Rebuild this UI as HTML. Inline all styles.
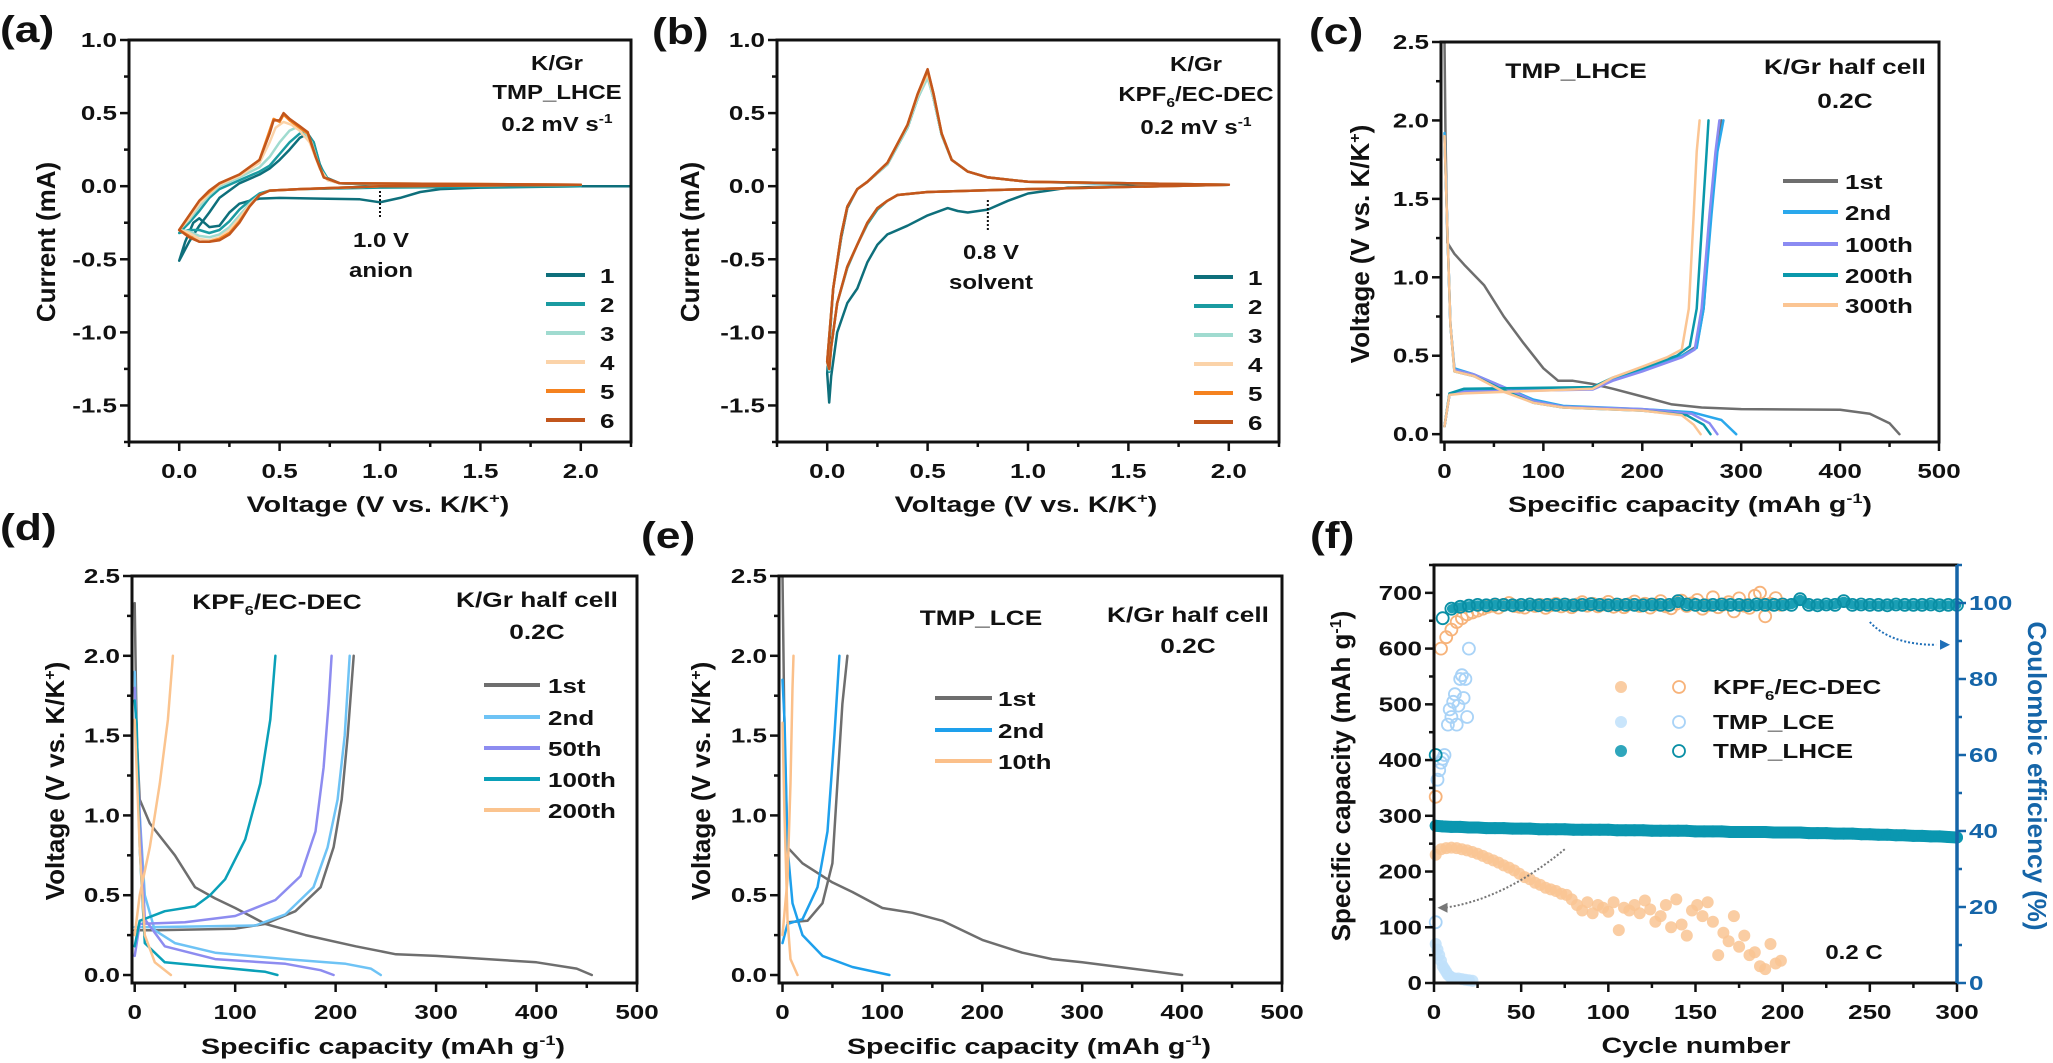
<!DOCTYPE html>
<html><head><meta charset="utf-8"><title>K/Gr electrochemistry figure</title>
<style>
html,body{margin:0;padding:0;background:#fff;}
svg{display:block;}
text{font-family:"Liberation Sans",Arial,sans-serif;font-weight:bold;fill:#111;}
</style></head>
<body>
<svg id="fig" width="2053" height="1063" viewBox="0 0 2053 1063" xmlns="http://www.w3.org/2000/svg">
<rect x="0" y="0" width="2053" height="1063" fill="#fff"/>
<text transform="translate(0,42) scale(1.2,1)" font-size="37">(a)</text>
<text transform="translate(652,44) scale(1.2,1)" font-size="37">(b)</text>
<text transform="translate(1309,44) scale(1.2,1)" font-size="37">(c)</text>
<text transform="translate(0,540) scale(1.2,1)" font-size="37">(d)</text>
<text transform="translate(641,548) scale(1.2,1)" font-size="37">(e)</text>
<text transform="translate(1310,548) scale(1.2,1)" font-size="37">(f)</text>
<text transform="translate(55,242) rotate(-90)" text-anchor="middle" font-size="26">Current (mA)</text>
<text transform="translate(378,512) scale(1.3,1)" text-anchor="middle" font-size="22">Voltage (V vs. K/K<tspan font-size="14" dy="-9">+</tspan><tspan dy="9">)</tspan></text>
<text transform="translate(699,242) rotate(-90)" text-anchor="middle" font-size="26">Current (mA)</text>
<text transform="translate(1026,512) scale(1.3,1)" text-anchor="middle" font-size="22">Voltage (V vs. K/K<tspan font-size="14" dy="-9">+</tspan><tspan dy="9">)</tspan></text>
<text transform="translate(1369,244) rotate(-90)" text-anchor="middle" font-size="26">Voltage (V vs. K/K<tspan font-size="16" dy="-9">+</tspan><tspan dy="9">)</tspan></text>
<text transform="translate(1690,512) scale(1.3,1)" text-anchor="middle" font-size="22">Specific capacity (mAh g<tspan font-size="14" dy="-9">-1</tspan><tspan dy="9">)</tspan></text>
<text transform="translate(64,781) rotate(-90)" text-anchor="middle" font-size="26">Voltage (V vs. K/K<tspan font-size="16" dy="-9">+</tspan><tspan dy="9">)</tspan></text>
<text transform="translate(383,1054) scale(1.3,1)" text-anchor="middle" font-size="22">Specific capacity (mAh g<tspan font-size="14" dy="-9">-1</tspan><tspan dy="9">)</tspan></text>
<text transform="translate(710,781) rotate(-90)" text-anchor="middle" font-size="26">Voltage (V vs. K/K<tspan font-size="16" dy="-9">+</tspan><tspan dy="9">)</tspan></text>
<text transform="translate(1029,1054) scale(1.3,1)" text-anchor="middle" font-size="22">Specific capacity (mAh g<tspan font-size="14" dy="-9">-1</tspan><tspan dy="9">)</tspan></text>
<text transform="translate(1350,776) rotate(-90)" text-anchor="middle" font-size="26">Specific capacity (mAh g<tspan font-size="16" dy="-9">-1</tspan><tspan dy="9">)</tspan></text>
<text transform="translate(2028,776) rotate(90)" text-anchor="middle" font-size="26" style="fill:#1565a8">Coulombic efficiency (%)</text>
<text transform="translate(1696,1053) scale(1.3,1)" text-anchor="middle" font-size="22">Cycle number</text>
<g font-size="20" text-anchor="middle">
<text transform="translate(557,70) scale(1.2,1)">K/Gr</text>
<text transform="translate(557,99) scale(1.2,1)">TMP_LHCE</text>
<text transform="translate(557,131) scale(1.2,1)">0.2 mV s<tspan font-size="13" dy="-8">-1</tspan></text>
<text transform="translate(381,247) scale(1.2,1)">1.0 V</text>
<text transform="translate(381,277) scale(1.2,1)">anion</text>
</g>
<g font-size="20" text-anchor="middle">
<text transform="translate(1196,71) scale(1.2,1)">K/Gr</text>
<text transform="translate(1196,101) scale(1.2,1)">KPF<tspan font-size="13" dy="6">6</tspan><tspan dy="-6">/EC-DEC</tspan></text>
<text transform="translate(1196,134) scale(1.2,1)">0.2 mV s<tspan font-size="13" dy="-8">-1</tspan></text>
<text transform="translate(991,259) scale(1.2,1)">0.8 V</text>
<text transform="translate(991,289) scale(1.2,1)">solvent</text>
</g>
<g font-size="21" text-anchor="middle">
<text transform="translate(1576,78) scale(1.25,1)">TMP_LHCE</text>
<text transform="translate(1845,74) scale(1.25,1)">K/Gr half cell</text>
<text transform="translate(1845,108) scale(1.25,1)">0.2C</text>
</g>
<g font-size="21" text-anchor="middle">
<text transform="translate(277,609) scale(1.25,1)">KPF<tspan font-size="13" dy="6">6</tspan><tspan dy="-6">/EC-DEC</tspan></text>
<text transform="translate(537,607) scale(1.25,1)">K/Gr half cell</text>
<text transform="translate(537,639) scale(1.25,1)">0.2C</text>
</g>
<g font-size="21" text-anchor="middle">
<text transform="translate(981,625) scale(1.25,1)">TMP_LCE</text>
<text transform="translate(1188,622) scale(1.25,1)">K/Gr half cell</text>
<text transform="translate(1188,653) scale(1.25,1)">0.2C</text>
</g>
<text transform="translate(1854,959) scale(1.2,1)" text-anchor="middle" font-size="20">0.2 C</text>
<g id="plots"></g>
</svg>
<script>
const cvLabels = ['1','2','3','4','5','6'];
const cvColors = ['#0e6f7b','#1a9ba1','#a0dbd0','#fbd3a9','#f5821f','#c2561c'];
const aCycle1 = [[2.25,0],[2.0,0],[1.5,-0.01],[1.3,-0.02],[1.2,-0.04],[1.1,-0.08],[1.0,-0.11],[0.9,-0.09],[0.7,-0.085],[0.5,-0.08],[0.4,-0.085],[0.35,-0.1],[0.3,-0.12],[0.25,-0.18],[0.2,-0.27],[0.15,-0.28],[0.1,-0.22],[0.07,-0.25],[0.03,-0.38],[0.0,-0.51],[0.05,-0.38],[0.1,-0.27],[0.15,-0.18],[0.2,-0.08],[0.3,0.02],[0.4,0.08],[0.45,0.12],[0.5,0.18],[0.55,0.25],[0.6,0.33],[0.64,0.36],[0.67,0.3],[0.7,0.15],[0.73,0.06],[0.8,0.02],[1.0,0.01],[1.5,0.0],[2.0,0.0]];
const aCycle2 = [[2.0,0.0],[1.5,-0.005],[1.0,-0.01],[0.6,-0.02],[0.45,-0.03],[0.4,-0.05],[0.35,-0.1],[0.3,-0.16],[0.25,-0.24],[0.2,-0.3],[0.15,-0.32],[0.1,-0.3],[0.05,-0.3],[0.0,-0.32],[0.05,-0.25],[0.1,-0.17],[0.15,-0.08],[0.2,-0.02],[0.3,0.04],[0.4,0.1],[0.45,0.14],[0.5,0.22],[0.55,0.3],[0.6,0.36],[0.63,0.37],[0.67,0.3],[0.7,0.14],[0.74,0.05],[0.8,0.02],[1.0,0.01],[2.0,0.01]];
const aCycle3 = [[2.0,0.01],[1.0,0.0],[0.6,-0.02],[0.45,-0.03],[0.4,-0.06],[0.35,-0.12],[0.3,-0.2],[0.25,-0.28],[0.2,-0.33],[0.15,-0.35],[0.1,-0.34],[0.05,-0.31],[0.0,-0.3],[0.05,-0.23],[0.1,-0.14],[0.15,-0.06],[0.2,0.0],[0.3,0.06],[0.4,0.13],[0.45,0.2],[0.5,0.3],[0.55,0.38],[0.58,0.4],[0.62,0.38],[0.66,0.3],[0.7,0.12],[0.74,0.04],[0.8,0.02],[2.0,0.01]];
const aCycle4 = [[2.0,0.01],[1.0,0.0],[0.6,-0.02],[0.45,-0.03],[0.4,-0.06],[0.35,-0.13],[0.3,-0.22],[0.25,-0.3],[0.2,-0.35],[0.15,-0.37],[0.1,-0.36],[0.05,-0.32],[0.0,-0.3],[0.05,-0.22],[0.1,-0.12],[0.15,-0.05],[0.2,0.01],[0.3,0.07],[0.4,0.16],[0.45,0.3],[0.48,0.4],[0.52,0.44],[0.56,0.42],[0.6,0.38],[0.65,0.3],[0.7,0.12],[0.74,0.04],[0.8,0.02],[2.0,0.01]];
const aCycle5 = [[2.0,0.01],[1.0,0.0],[0.6,-0.02],[0.45,-0.03],[0.4,-0.06],[0.35,-0.14],[0.3,-0.24],[0.25,-0.32],[0.2,-0.36],[0.15,-0.38],[0.1,-0.38],[0.05,-0.34],[0.0,-0.3],[0.05,-0.2],[0.1,-0.1],[0.15,-0.04],[0.2,0.02],[0.3,0.08],[0.4,0.18],[0.45,0.38],[0.47,0.46],[0.5,0.44],[0.52,0.49],[0.55,0.45],[0.6,0.4],[0.64,0.36],[0.68,0.2],[0.72,0.06],[0.8,0.02],[2.0,0.01]];
const aCycle6 = [[2.0,0.01],[1.0,0.0],[0.6,-0.02],[0.45,-0.03],[0.4,-0.06],[0.35,-0.14],[0.3,-0.25],[0.25,-0.33],[0.2,-0.37],[0.15,-0.38],[0.1,-0.38],[0.05,-0.35],[0.0,-0.3],[0.05,-0.2],[0.1,-0.1],[0.15,-0.03],[0.2,0.02],[0.3,0.08],[0.4,0.18],[0.45,0.36],[0.47,0.45],[0.5,0.45],[0.52,0.5],[0.55,0.46],[0.6,0.41],[0.64,0.37],[0.68,0.2],[0.72,0.06],[0.8,0.02],[2.0,0.01]];
const bCycle1 = [[2.0,0.01],[1.5,0.0],[1.2,-0.01],[1.1,-0.03],[1.0,-0.05],[0.9,-0.1],[0.8,-0.16],[0.7,-0.18],[0.65,-0.17],[0.6,-0.15],[0.5,-0.2],[0.4,-0.27],[0.3,-0.33],[0.25,-0.4],[0.2,-0.52],[0.15,-0.7],[0.1,-0.8],[0.05,-1.0],[0.02,-1.3],[0.01,-1.48],[0.0,-1.28],[0.03,-0.7],[0.07,-0.35],[0.1,-0.15],[0.15,-0.02],[0.2,0.03],[0.3,0.15],[0.4,0.4],[0.45,0.6],[0.5,0.75],[0.53,0.6],[0.57,0.35],[0.62,0.18],[0.7,0.1],[0.8,0.06],[1.0,0.03],[1.5,0.015],[2.0,0.01]];
const bCycle2 = [[2.0,0.01],[1.0,-0.02],[0.5,-0.04],[0.35,-0.06],[0.3,-0.1],[0.25,-0.16],[0.2,-0.26],[0.15,-0.4],[0.1,-0.56],[0.05,-0.8],[0.02,-1.1],[0.01,-1.27],[0.0,-1.2],[0.03,-0.7],[0.07,-0.33],[0.1,-0.14],[0.15,-0.02],[0.2,0.03],[0.3,0.15],[0.4,0.4],[0.45,0.6],[0.5,0.76],[0.53,0.6],[0.57,0.35],[0.62,0.18],[0.7,0.1],[0.8,0.06],[1.0,0.03],[2.0,0.01]];
const bCycle3 = [[2.0,0.01],[1.0,-0.02],[0.5,-0.04],[0.35,-0.06],[0.3,-0.1],[0.25,-0.15],[0.2,-0.25],[0.15,-0.4],[0.1,-0.55],[0.05,-0.8],[0.02,-1.1],[0.01,-1.26],[0.0,-1.2],[0.03,-0.7],[0.07,-0.33],[0.1,-0.14],[0.15,-0.02],[0.2,0.03],[0.3,0.15],[0.4,0.4],[0.45,0.6],[0.5,0.74],[0.53,0.6],[0.57,0.35],[0.62,0.18],[0.7,0.1],[0.8,0.06],[1.0,0.03],[2.0,0.01]];
const bCycle4 = [[2.0,0.01],[1.0,-0.02],[0.5,-0.04],[0.35,-0.06],[0.3,-0.1],[0.25,-0.15],[0.2,-0.25],[0.15,-0.4],[0.1,-0.55],[0.05,-0.8],[0.02,-1.1],[0.01,-1.25],[0.0,-1.2],[0.03,-0.7],[0.07,-0.33],[0.1,-0.14],[0.15,-0.02],[0.2,0.03],[0.3,0.16],[0.4,0.42],[0.45,0.62],[0.5,0.77],[0.53,0.62],[0.57,0.36],[0.62,0.18],[0.7,0.1],[0.8,0.06],[1.0,0.03],[2.0,0.01]];
const bCycle5 = [[2.0,0.01],[1.0,-0.02],[0.5,-0.04],[0.35,-0.06],[0.3,-0.1],[0.25,-0.15],[0.2,-0.25],[0.15,-0.4],[0.1,-0.55],[0.05,-0.8],[0.02,-1.1],[0.01,-1.25],[0.0,-1.2],[0.03,-0.7],[0.07,-0.33],[0.1,-0.14],[0.15,-0.02],[0.2,0.03],[0.3,0.16],[0.4,0.42],[0.45,0.63],[0.5,0.79],[0.53,0.63],[0.57,0.36],[0.62,0.18],[0.7,0.1],[0.8,0.06],[1.0,0.03],[2.0,0.01]];
const bCycle6 = [[2.0,0.01],[1.0,-0.02],[0.5,-0.04],[0.35,-0.06],[0.3,-0.1],[0.25,-0.15],[0.2,-0.25],[0.15,-0.4],[0.1,-0.55],[0.05,-0.8],[0.02,-1.1],[0.01,-1.25],[0.0,-1.2],[0.03,-0.7],[0.07,-0.33],[0.1,-0.14],[0.15,-0.02],[0.2,0.03],[0.3,0.16],[0.4,0.42],[0.45,0.63],[0.5,0.8],[0.53,0.63],[0.57,0.36],[0.62,0.18],[0.7,0.1],[0.8,0.06],[1.0,0.03],[2.0,0.01]];
const cLabels = ['1st','2nd','100th','200th','300th'];
const cColors = ['#6e6e6e','#2aa8ec','#8b8bf2','#0a98ab','#fbc593'];
const cDis1 = [[0,2.5],[1,1.9],[3,1.22],[10,1.15],[20,1.08],[40,0.95],[60,0.75],[80,0.58],[100,0.42],[115,0.34],[130,0.34],[150,0.32],[170,0.29],[200,0.24],[230,0.19],[260,0.17],[300,0.16],[400,0.155],[430,0.13],[450,0.07],[460,0]];
const cCha1 = [[0,0.05],[5,0.25],[20,0.28],[100,0.285],[150,0.3],[170,0.35],[200,0.41],[240,0.5],[255,0.56],[262,0.8],[268,1.3],[273,1.7],[280,2.0]];
const cDis2 = [[0,1.92],[3,1.3],[6,0.7],[10,0.42],[30,0.38],[60,0.3],[90,0.22],[120,0.18],[200,0.16],[250,0.14],[280,0.09],[295,0]];
const cCha2 = [[0,0.05],[5,0.25],[20,0.28],[150,0.29],[170,0.35],[200,0.41],[240,0.5],[255,0.55],[262,0.8],[270,1.4],[276,1.8],[282,2.0]];
const cDis100 = [[0,1.9],[3,1.3],[6,0.7],[10,0.41],[30,0.38],[60,0.3],[90,0.21],[120,0.175],[200,0.16],[250,0.13],[268,0.07],[276,0]];
const cCha100 = [[0,0.05],[5,0.25],[20,0.27],[150,0.285],[170,0.34],[200,0.4],[240,0.49],[253,0.54],[260,0.8],[268,1.4],[274,1.8],[278,2.0]];
const cDis200 = [[0,1.9],[3,1.3],[6,0.7],[10,0.4],[30,0.37],[60,0.28],[90,0.2],[120,0.17],[200,0.15],[245,0.12],[262,0.06],[269,0]];
const cCha200 = [[0,0.05],[5,0.26],[20,0.29],[150,0.3],[170,0.36],[200,0.42],[235,0.5],[248,0.56],[255,0.8],[261,1.4],[265,1.8],[267,2.0]];
const cDis300 = [[0,1.9],[3,1.3],[6,0.7],[10,0.4],[30,0.37],[60,0.27],[90,0.2],[120,0.17],[200,0.15],[240,0.12],[252,0.06],[259,0]];
const cCha300 = [[0,0.05],[5,0.25],[20,0.26],[150,0.29],[170,0.36],[200,0.43],[225,0.49],[240,0.54],[247,0.8],[252,1.4],[255,1.8],[258,2.0]];
const dLabels = ['1st','2nd','50th','100th','200th'];
const dColors = ['#6e6e6e','#6ec3f5','#8d8cf0','#0aa0b8','#fbc48f'];
const dDis1 = [[0,2.33],[2,1.5],[5,1.1],[15,0.95],[40,0.75],[60,0.55],[80,0.48],[100,0.42],[130,0.32],[170,0.25],[220,0.18],[260,0.13],[300,0.12],[400,0.08],[440,0.04],[455,0]];
const dCha1 = [[0,0.28],[20,0.28],[100,0.29],[130,0.32],[160,0.4],[185,0.55],[198,0.8],[206,1.1],[212,1.5],[218,2.0]];
const dDis2 = [[0,1.9],[3,1.2],[10,0.5],[20,0.28],[40,0.2],[80,0.14],[150,0.1],[210,0.07],[235,0.04],[245,0]];
const dCha2 = [[0,0.3],[20,0.3],[120,0.31],[150,0.38],[178,0.55],[192,0.8],[202,1.1],[209,1.5],[214,2.0]];
const dDis50 = [[0,1.8],[5,1.0],[10,0.35],[30,0.18],[80,0.1],[150,0.07],[185,0.03],[198,0]];
const dCha50 = [[0,0.12],[5,0.32],[50,0.33],[100,0.37],[140,0.47],[165,0.62],[180,0.9],[188,1.3],[193,1.7],[196,2.0]];
const dDis100 = [[0,1.72],[2,1.57],[5,0.8],[10,0.2],[30,0.08],[80,0.05],[130,0.02],[142,0]];
const dCha100 = [[0,0.18],[5,0.34],[30,0.4],[60,0.43],[75,0.5],[90,0.6],[110,0.85],[125,1.2],[135,1.6],[140,2.0]];
const dDis200 = [[0,1.6],[5,0.8],[10,0.25],[20,0.08],[36,0]];
const dCha200 = [[0,0.25],[5,0.5],[15,0.8],[25,1.2],[33,1.6],[38,2.0]];
const eLabels = ['1st','2nd','10th'];
const eColors = ['#6e6e6e','#1ea0ec','#fbc08a'];
const eDis1 = [[0,2.5],[2,1.5],[5,0.8],[20,0.7],[50,0.58],[70,0.52],[100,0.42],[130,0.39],[160,0.34],[200,0.22],[240,0.14],[270,0.1],[300,0.08],[350,0.04],[400,0]];
const eCha1 = [[5,0.33],[25,0.34],[40,0.45],[50,0.7],[55,1.2],[60,1.7],[65,2.0]];
const eDis2 = [[0,1.85],[2,1.6],[5,0.8],[10,0.45],[20,0.25],[40,0.12],[70,0.05],[107,0]];
const eCha2 = [[0,0.2],[5,0.32],[20,0.35],[35,0.55],[45,0.9],[52,1.5],[57,2.0]];
const eDis10 = [[0,1.58],[2,1.0],[5,0.35],[8,0.1],[15,0]];
const eCha10 = [[0,0.25],[5,0.6],[8,1.2],[10,1.8],[11,2.0]];
const fSeries = ['KPF6/EC-DEC','TMP_LCE','TMP_LHCE'];
const lhceCycles = [1,5,10,15,20,25,30,35,40,45,50,55,60,65,70,75,80,85,90,95,100,105,110,115,120,125,130,135,140,145,150,155,160,165,170,175,180,185,190,195,200,205,210,215,220,225,230,235,240,245,250,255,260,265,270,275,280,285,290,295,300];
const lhceCap = [282,281,280,280,279,279,278,278,278,277,277,277,276,276,276,276,275,275,275,275,275,274,274,274,274,273,273,273,273,273,272,272,272,272,271,271,271,271,271,270,270,270,270,269,269,269,268,268,268,267,267,266,266,265,265,264,264,263,263,262,261];
const lhceCE = [60,96,98.5,99,99.3,99.5,99.4,99.6,99.5,99.4,99.5,99.6,99.4,99.5,99.5,99.6,99.4,99.5,99.7,99.5,99.4,99.6,99.5,99.5,99.4,99.6,99.5,99.5,100.5,99.6,99.5,99.4,99.5,99.6,99.5,99.5,99.4,99.6,99.5,99.5,99.6,99.5,101,99.5,99.4,99.6,99.5,100.5,99.5,99.6,99.5,99.5,99.4,99.6,99.5,99.5,99.5,99.6,99.4,99.5,99.5];
const kpfCycles = [1,4,7,10,13,16,19,22,25,28,31,34,37,40,43,46,49,52,55,58,61,64,67,70,73,76,79,82,85,88,91,94,97,100,103,106,109,112,115,118,121,124,127,130,133,136,139,142,145,148,151,154,157,160,163,166,169,172,175,178,181,184,187,190,193,196,199];
const kpfCap = [230,240,242,243,242,240,238,235,232,228,224,220,216,211,207,202,196,190,186,180,176,171,168,165,160,158,150,140,130,145,125,140,135,128,145,95,135,130,140,125,148,132,110,120,140,100,150,105,85,130,140,120,145,110,50,90,75,120,65,85,50,55,30,25,70,35,40];
const kpfCE = [49,88,91,93,95,96,97,97.5,98,98.5,99,99.3,98.8,99.5,100,99.2,99,98.8,99.6,99.2,99.5,98.7,99.4,99.8,99.1,99.5,98.9,99.6,100.2,99.3,99.8,99.1,99.6,100.3,99,99.5,98.9,99.7,100.4,99.2,99.8,98.8,99.6,100.5,99.1,98.6,99.8,100.6,99.2,99.9,100.8,98.5,99.4,101.5,98.9,99.6,100.2,97.8,101.2,99.3,98.7,101.9,102.7,96.5,99.8,101.3,99.5];
const lceCycles = [1,2,3,4,5,6,7,8,9,10,12,14,16,18,20,22];
const lceCap = [70,60,50,40,30,25,20,15,12,10,8,8,7,6,5,4];
const lceCECycles = [1,2,3,4,5,6,8,9,10,11,12,13,14,15,16,17,18,19,20];
const lceCE = [16,53.5,56,58,59,60,68,72,70,74,76,68,73,80,81,75,80,70,88];
const cvXTicks = [0,0.5,1.0,1.5,2.0];
const cvXTickLabels = ['0.0','0.5','1.0','1.5','2.0'];
const cvXMinor = [-0.25,0.25,0.75,1.25,1.75,2.25];
const cvYTicks = [1.0,0.5,0.0,-0.5,-1.0,-1.5];
const cvYTickLabels = ['1.0','0.5','0.0','-0.5','-1.0','-1.5'];
const cvYMinor = [0.75,0.25,-0.25,-0.75,-1.25,-1.75];
const capXTicks = [0,100,200,300,400,500];
const capXTickLabels = ['0','100','200','300','400','500'];
const capXMinor = [50,150,250,350,450];
const vYTicks = [0,0.5,1.0,1.5,2.0,2.5];
const vYTickLabels = ['0.0','0.5','1.0','1.5','2.0','2.5'];
const vYMinor = [0.25,0.75,1.25,1.75,2.25];
const cycXTicks = [0,50,100,150,200,250,300];
const cycXTickLabels = ['0','50','100','150','200','250','300'];
const cycXMinor = [25,75,125,175,225,275];
const fLeftTicks = [0,100,200,300,400,500,600,700];
const fLeftTickLabels = ['0','100','200','300','400','500','600','700'];
const fLeftMinor = [50,150,250,350,450,550,650,750];
const fRightTicks = [0,20,40,60,80,100];
const fRightTickLabels = ['0','20','40','60','80','100'];
const fRightMinor = [10,30,50,70,90,110];

const NS = 'http://www.w3.org/2000/svg';
const root = document.getElementById('plots');
function mk(tag, parent) { const e = document.createElementNS(NS, tag); (parent || root).appendChild(e); return e; }
function panel(L, R, T, B, xmin, xmax, ymin, ymax) {
  return { L, R, T, B, x: v => L + (v - xmin) / (xmax - xmin) * (R - L), y: v => B - (v - ymin) / (ymax - ymin) * (B - T) };
}
function label(x, y, s, anchor, size, color, name) {
  const t = mk('text');
  t.setAttribute('transform', 'translate(' + x + ',' + y + ') scale(1.3,1)');
  t.setAttribute('text-anchor', anchor);
  t.setAttribute('font-size', size);
  if (color) t.setAttribute('style', 'fill:' + color);
  t.textContent = s;
  
  
  return t;
}
function line(x1, y1, x2, y2, color, w, name) {
  const l = mk('line');
  l.setAttribute('x1', x1); l.setAttribute('y1', y1); l.setAttribute('x2', x2); l.setAttribute('y2', y2);
  l.setAttribute('stroke', color); l.setAttribute('stroke-width', w);
  
  
  return l;
}
function frame(p, id, xt, xl, xm, yt, yl, ym) {
  const r = mk('rect');
  r.setAttribute('x', p.L); r.setAttribute('y', p.T); r.setAttribute('width', p.R - p.L); r.setAttribute('height', p.B - p.T);
  r.setAttribute('fill', 'none'); r.setAttribute('stroke', '#111'); r.setAttribute('stroke-width', 3);
  
  
  xt.forEach((v, i) => {
    line(p.x(v), p.B, p.x(v), p.B + 9, '#111', 2.5, id + '-x-tick');
    label(p.x(v), p.B + 36, xl[i], 'middle', 20, null, id + '-x-tick-label');
  });
  xm.forEach(v => { line(p.x(v), p.B, p.x(v), p.B + 5, '#111', 2.5, id + '-x-minor-tick'); });
  yt.forEach((v, i) => {
    line(p.L - 9, p.y(v), p.L, p.y(v), '#111', 2.5, id + '-y-tick');
    label(p.L - 12, p.y(v) + 7, yl[i], 'end', 20, null, id + '-y-tick-label');
  });
  ym.forEach(v => { line(p.L - 5, p.y(v), p.L, p.y(v), '#111', 2.5, id + '-y-minor-tick'); });
}
function curve(p, pts, color, w, name) {
  const path = mk('path');
  path.setAttribute('d', pts.map((q, i) => (i ? 'L' : 'M') + p.x(q[0]).toFixed(1) + ' ' + p.y(q[1]).toFixed(1)).join(' '));
  path.setAttribute('fill', 'none'); path.setAttribute('stroke', color); path.setAttribute('stroke-width', w);
  path.setAttribute('stroke-linejoin', 'round'); path.setAttribute('stroke-linecap', 'round');
  
  
  return path;
}
function legendLines(x1, x2, tx, ys, labels, colors, id) {
  labels.forEach((s, i) => {
    line(x1, ys[i], x2, ys[i], colors[i], 4, id + '-legend-swatch');
    label(tx, ys[i] + 8, s, 'start', 20, null, id + '-legend-label');
  });
}

const pa = panel(129, 631, 40, 442, -0.25, 2.25, -1.75, 1.0);
[aCycle1, aCycle2, aCycle3, aCycle4, aCycle5, aCycle6].forEach((d, i) => curve(pa, d, cvColors[i], 2.5, 'a-cv-cycle-' + cvLabels[i]));
frame(pa, 'a', cvXTicks, cvXTickLabels, cvXMinor, cvYTicks, cvYTickLabels, cvYMinor);
const aMark = line(pa.x(1.0), 191, pa.x(1.0), 217, '#111', 2, 'a-1v-marker');
aMark.setAttribute('stroke-dasharray', '2,2');
legendLines(546, 585, 600, [275, 304, 333, 362, 391, 420], cvLabels, cvColors, 'a');

const pb = panel(777, 1279, 40, 442, -0.25, 2.25, -1.75, 1.0);
[bCycle1, bCycle2, bCycle3, bCycle4, bCycle5, bCycle6].forEach((d, i) => curve(pb, d, cvColors[i], 2.5, 'b-cv-cycle-' + cvLabels[i]));
frame(pb, 'b', cvXTicks, cvXTickLabels, cvXMinor, cvYTicks, cvYTickLabels, cvYMinor);
const bMark = line(pb.x(0.8), 200, pb.x(0.8), 230, '#111', 2, 'b-08v-marker');
bMark.setAttribute('stroke-dasharray', '2,2');
legendLines(1194, 1233, 1248, [277, 306, 335, 364, 393, 422], cvLabels, cvColors, 'b');

const pc = panel(1441, 1939, 42, 442, -3.5, 500, -0.05, 2.5);
[[cDis1, cCha1], [cDis2, cCha2], [cDis100, cCha100], [cDis200, cCha200], [cDis300, cCha300]].forEach((pair, i) => {
  curve(pc, pair[0], cColors[i], 2.5, 'c-discharge-' + cLabels[i]);
  curve(pc, pair[1], cColors[i], 2.5, 'c-charge-' + cLabels[i]);
});
frame(pc, 'c', capXTicks, capXTickLabels, capXMinor, vYTicks, vYTickLabels, vYMinor);
legendLines(1783, 1838, 1845, [181, 212, 244, 275, 305], cLabels, cColors, 'c');

const pd = panel(132, 637, 576, 983, -2.7, 500, -0.05, 2.5);
[[dDis1, dCha1], [dDis2, dCha2], [dDis50, dCha50], [dDis100, dCha100], [dDis200, dCha200]].forEach((pair, i) => {
  curve(pd, pair[0], dColors[i], 2.5, 'd-discharge-' + dLabels[i]);
  curve(pd, pair[1], dColors[i], 2.5, 'd-charge-' + dLabels[i]);
});
frame(pd, 'd', capXTicks, capXTickLabels, capXMinor, vYTicks, vYTickLabels, vYMinor);
legendLines(484, 540, 548, [685, 717, 748, 779, 810], dLabels, dColors, 'd');

const pe = panel(779, 1282, 576, 983, -3.5, 500, -0.05, 2.5);
[[eDis1, eCha1], [eDis2, eCha2], [eDis10, eCha10]].forEach((pair, i) => {
  curve(pe, pair[0], eColors[i], 2.5, 'e-discharge-' + eLabels[i]);
  curve(pe, pair[1], eColors[i], 2.5, 'e-charge-' + eLabels[i]);
});
frame(pe, 'e', capXTicks, capXTickLabels, capXMinor, vYTicks, vYTickLabels, vYMinor);
legendLines(935, 992, 998, [698, 730, 761], eLabels, eColors, 'e');

const pf = panel(1434, 1957, 565, 983, 0, 300, 0, 750);
const yR = v => 983 - v / 110 * (983 - 565);
function dot(cx, cy, filled, color, name) {
  const c = mk('circle');
  c.setAttribute('cx', cx.toFixed(1)); c.setAttribute('cy', cy.toFixed(1)); c.setAttribute('r', 6);
  if (filled) { c.setAttribute('fill', color); c.setAttribute('fill-opacity', '0.85'); }
  else { c.setAttribute('fill', 'none'); c.setAttribute('stroke', color); c.setAttribute('stroke-width', 1.8); }
  
  
  return c;
}
function band(xs, ys, yfun, color, w, name) {
  const path = mk('path');
  path.setAttribute('d', xs.map((c, i) => (i ? 'L' : 'M') + pf.x(c).toFixed(1) + ' ' + yfun(ys[i]).toFixed(1)).join(' '));
  path.setAttribute('fill', 'none'); path.setAttribute('stroke', color); path.setAttribute('stroke-width', w);
  path.setAttribute('stroke-linejoin', 'round'); path.setAttribute('stroke-linecap', 'round');
  
  
  return path;
}
kpfCycles.forEach((c, i) => dot(pf.x(c), yR(kpfCE[i]), false, '#f7b37a', 'f-kpf-ce-point'));
lceCECycles.forEach((c, i) => dot(pf.x(c), yR(lceCE[i]), false, '#a9d3f7', 'f-lce-ce-point'));
kpfCycles.forEach((c, i) => dot(pf.x(c), pf.y(kpfCap[i]), true, '#f9c493', 'f-kpf-capacity-point'));
lceCycles.forEach((c, i) => dot(pf.x(c), pf.y(lceCap[i]), true, '#bfe0fa', 'f-lce-capacity-point'));
band(lhceCycles, lhceCap, pf.y, '#0a97b0', 12, 'f-lhce-capacity-band');
lhceCycles.forEach((c, i) => dot(pf.x(c), pf.y(lhceCap[i]), true, '#0a97b0', 'f-lhce-capacity-point'));
band(lhceCycles.slice(2), lhceCE.slice(2), yR, '#1a9fb5', 9, 'f-lhce-ce-band');
lhceCycles.forEach((c, i) => dot(pf.x(c), yR(lhceCE[i]), false, '#0a8fa5', 'f-lhce-ce-point'));
frame(pf, 'f', cycXTicks, cycXTickLabels, cycXMinor, fLeftTicks, fLeftTickLabels, fLeftMinor);
line(pf.R, pf.T, pf.R, pf.B, '#1565a8', 3.5, 'f-right-axis');
fRightTicks.forEach((v, i) => {
  line(pf.R, yR(v), pf.R + 9, yR(v), '#1565a8', 2.5, 'f-right-tick');
  label(pf.R + 12, yR(v) + 7, fRightTickLabels[i], 'start', 20, '#1565a8', 'f-right-tick-label');
});
fRightMinor.forEach(v => { line(pf.R, yR(v), pf.R + 5, yR(v), '#1565a8', 2.5, 'f-right-minor-tick'); });
const ga = mk('path');
ga.setAttribute('d', 'M' + pf.x(75) + ' ' + pf.y(240) + ' Q' + pf.x(40) + ' ' + pf.y(150) + ' ' + pf.x(6) + ' ' + pf.y(135));
ga.setAttribute('fill', 'none'); ga.setAttribute('stroke', '#777'); ga.setAttribute('stroke-width', 2); ga.setAttribute('stroke-dasharray', '2,2');


const gh = mk('path');
gh.setAttribute('d', 'M' + (pf.x(2)) + ' ' + pf.y(135) + ' l10 -5 l0 10 z');
gh.setAttribute('fill', '#777');


const ba = mk('path');
ba.setAttribute('d', 'M' + pf.x(250) + ' ' + yR(95) + ' Q' + pf.x(262) + ' ' + yR(89) + ' ' + pf.x(288) + ' ' + yR(89));
ba.setAttribute('fill', 'none'); ba.setAttribute('stroke', '#1f6fb8'); ba.setAttribute('stroke-width', 2); ba.setAttribute('stroke-dasharray', '2,2');


const bh = mk('path');
bh.setAttribute('d', 'M' + pf.x(296) + ' ' + yR(89) + ' l-10 -5 l0 10 z');
bh.setAttribute('fill', '#1f6fb8');


const fLegY = [687, 722, 751];
const fFill = ['#f9c493', '#bfe0fa', '#0a97b0'];
const fStroke = ['#f7b37a', '#a9d3f7', '#0a8fa5'];
fSeries.forEach((s, i) => {
  dot(1621, fLegY[i], true, fFill[i], 'f-legend-filled-marker');
  dot(1679, fLegY[i], false, fStroke[i], 'f-legend-open-marker');
});
const fl0 = label(1713, fLegY[0] + 7, 'KPF', 'start', 20, null, 'f-legend-label');
const sub = document.createElementNS(NS, 'tspan'); sub.setAttribute('font-size', '13'); sub.setAttribute('dy', '6'); sub.textContent = '6'; fl0.appendChild(sub);
const rest = document.createElementNS(NS, 'tspan'); rest.setAttribute('dy', '-6'); rest.textContent = '/EC-DEC'; fl0.appendChild(rest);
label(1713, fLegY[1] + 7, fSeries[1], 'start', 20, null, 'f-legend-label');
label(1713, fLegY[2] + 7, fSeries[2], 'start', 20, null, 'f-legend-label');
</script>
</body></html>
